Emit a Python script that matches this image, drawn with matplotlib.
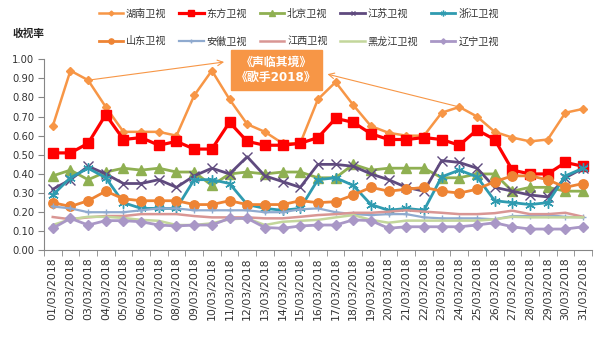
import matplotlib
matplotlib.use('Agg')
import matplotlib.pyplot as plt

plt.rcParams['font.family'] = ['DejaVu Sans', 'Noto Sans CJK SC']

# dates (March 2018)
dates = ['%02d/03/2018' % d for d in range(1, 32)]
days = list(range(1, 32))

# 收视率 per channel
hunan = [0.65, 0.94, 0.89, 0.75, 0.62, 0.62, 0.62, 0.60, 0.81, 0.94, 0.79, 0.66, 0.62, 0.56, 0.56, 0.79,
         0.88, 0.76, 0.65, 0.615, 0.60, 0.60, 0.72, 0.75, 0.70, 0.62, 0.59, 0.57, 0.58, 0.72, 0.74]
dongfang = [0.51, 0.51, 0.56, 0.71, 0.58, 0.59, 0.55, 0.57, 0.53, 0.53, 0.67, 0.57, 0.55, 0.55, 0.56, 0.59,
            0.69, 0.67, 0.61, 0.58, 0.58, 0.59, 0.58, 0.55, 0.63, 0.58, 0.42, 0.40, 0.40, 0.46, 0.44]
beijing = [0.39, 0.42, 0.37, 0.41, 0.43, 0.42, 0.43, 0.41, 0.41, 0.34, 0.40, 0.41, 0.40, 0.41, 0.41, 0.38,
           0.38, 0.45, 0.42, 0.43, 0.43, 0.43, 0.38, 0.38, 0.40, 0.40, 0.31, 0.33, 0.33, 0.31, 0.31]
jiangsu = [0.32, 0.37, 0.44, 0.40, 0.35, 0.35, 0.37, 0.33, 0.39, 0.43, 0.40, 0.49, 0.39, 0.36, 0.33, 0.45,
           0.45, 0.44, 0.40, 0.37, 0.33, 0.31, 0.47, 0.46, 0.43, 0.33, 0.31, 0.29, 0.28, 0.38, 0.43]
zhejiang = [0.29, 0.38, 0.43, 0.38, 0.25, 0.22, 0.22, 0.22, 0.37, 0.37, 0.35, 0.24, 0.22, 0.21, 0.22, 0.37,
            0.38, 0.34, 0.24, 0.21, 0.22, 0.21, 0.385, 0.42, 0.385, 0.26, 0.25, 0.24, 0.25, 0.39, 0.43]
shandong = [0.25, 0.23, 0.26, 0.31, 0.27, 0.26, 0.26, 0.26, 0.24, 0.24, 0.26, 0.24, 0.24, 0.24, 0.26, 0.25,
            0.255, 0.29, 0.33, 0.31, 0.32, 0.33, 0.31, 0.30, 0.32, 0.36, 0.39, 0.39, 0.37, 0.33, 0.35]
anhui = [0.23, 0.22, 0.20, 0.20, 0.20, 0.21, 0.22, 0.22, 0.21, 0.21, 0.21, 0.21, 0.20, 0.20, 0.215, 0.22,
         0.20, 0.19, 0.185, 0.19, 0.19, 0.173, 0.168, 0.168, 0.168, 0.163, 0.18, 0.18, 0.185, 0.176, 0.173]
jiangxi = [0.175, 0.163, 0.173, 0.18, 0.18, 0.19, 0.19, 0.19, 0.18, 0.173, 0.173, 0.173, 0.168, 0.168, 0.176, 0.185,
           0.19, 0.197, 0.197, 0.203, 0.21, 0.203, 0.197, 0.19, 0.19, 0.195, 0.208, 0.19, 0.19, 0.197, 0.176]
heilongjiang = [0.133, 0.163, 0.176, 0.176, 0.17, 0.16, 0.155, 0.133, 0.133, 0.142, 0.163, 0.168, 0.133, 0.15, 0.155, 0.16,
                0.173, 0.185, 0.16, 0.145, 0.156, 0.156, 0.156, 0.156, 0.156, 0.163, 0.176, 0.173, 0.173, 0.173, 0.173]
liaoning = [0.116, 0.168, 0.133, 0.156, 0.156, 0.15, 0.133, 0.128, 0.133, 0.133, 0.168, 0.168, 0.12, 0.116, 0.128, 0.133,
            0.133, 0.16, 0.156, 0.116, 0.124, 0.124, 0.124, 0.124, 0.133, 0.145, 0.124, 0.112, 0.112, 0.112, 0.124]

# name, values, color, marker, markersize, linewidth
series = [
    ('湖南卫视', hunan, '#F79646', 'D', 4.5, 1.8),
    ('东方卫视', dongfang, '#FF0000', 's', 7.2, 2.3),
    ('北京卫视', beijing, '#8FB052', '^', 6.8, 2.0),
    ('江苏卫视', jiangsu, '#5F4A7E', 'x', 6.5, 2.0),
    ('浙江卫视', zhejiang, '#2F9BB0', (6, 2, 0), 7.5, 2.0),
    ('山东卫视', shandong, '#EE8434', 'o', 6.8, 2.0),
    ('安徽卫视', anhui, '#8FAACF', '+', 5, 1.6),
    ('江西卫视', jiangxi, '#D99694', None, 0, 1.8),
    ('黑龙江卫视', heilongjiang, '#C3D69B', None, 0, 1.8),
    ('辽宁卫视', liaoning, '#A997C6', 'D', 5, 2.0),
]

fig = plt.figure(figsize=(6.04, 3.52), dpi=100)
ax = fig.add_axes([0.0727, 0.2884, 0.9073, 0.5436])

handles = []
for i, (name, vals, col, mk, ms, lw) in enumerate(series):
    ln, = ax.plot(days, vals, color=col, lw=lw, marker=mk, markersize=ms,
                  markeredgecolor=col, markerfacecolor=col, markeredgewidth=1.0,
                  zorder=3 + i, label=name)
    handles.append(ln)

ax.set_xlim(0.5, 31.5)
ax.set_ylim(0, 1.0)
ax.set_yticks([i / 10 for i in range(11)])
ax.set_yticklabels(['%.2f' % (i / 10) for i in range(11)], fontsize=7.2, color='#333333')
ax.set_xticks(days)
ax.set_xticklabels(dates, rotation=90, fontsize=7.8, color='#333333')
ax.set_xticks([d + 0.5 for d in range(0, 32)], minor=True)
ax.tick_params(axis='x', which='major', length=0, pad=5)
ax.tick_params(axis='x', which='minor', length=4, color='#868686', direction='out')
ax.tick_params(axis='y', length=4, color='#868686', pad=3)
for s in ['top', 'right']:
    ax.spines[s].set_visible(False)
ax.spines['left'].set_color('#868686')
ax.spines['bottom'].set_color('#868686')

fig.text(0.02, 0.905, '收视率', fontsize=7.7, fontweight='bold', va='center', color='#222222')

# legend: 5 columns, filled row by row
order = [0, 5, 1, 6, 2, 7, 3, 8, 4, 9]
leg = fig.legend([handles[i] for i in order], [series[i][0] for i in order], ncol=5,
                 loc='upper left', bbox_to_anchor=(0.155, 0.99), frameon=False,
                 fontsize=7.3, handlelength=2.4, handletextpad=0.3, columnspacing=1.25,
                 labelspacing=1.75, borderpad=0, numpoints=1, markerscale=0.55)
for t in leg.get_texts():
    t.set_color('#333333')

# annotation box and arrows
box_col = '#F79646'
ax.text(13.64, 0.945, '《声临其境》\n《歌手2018》', ha='center', va='center',
        fontsize=8.6, color='white', fontweight='bold', linespacing=1.3, zorder=20,
        bbox=dict(boxstyle='square,pad=0.45', fc=box_col, ec=box_col))
ax.annotate('', xy=(10.85, 0.987), xytext=(3, hunan[2]),
            arrowprops=dict(arrowstyle='->', color=box_col, lw=0.8), zorder=19, annotation_clip=False)
ax.annotate('', xy=(16.39, 0.925), xytext=(24, hunan[23]),
            arrowprops=dict(arrowstyle='->', color=box_col, lw=0.8), zorder=19, annotation_clip=False)

fig.savefig('out.png', dpi=100)
